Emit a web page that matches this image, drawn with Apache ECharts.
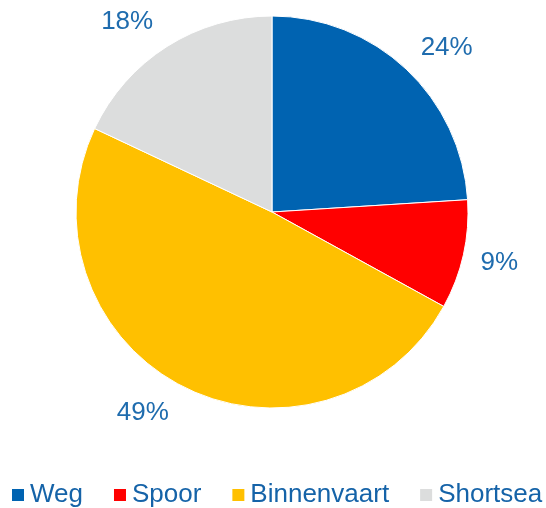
<!DOCTYPE html>
<html>
<head>
<meta charset="utf-8">
<script src="https://cdn.jsdelivr.net/npm/echarts@6/dist/echarts.min.js"></script>
<style>html,body{margin:0;padding:0;background:#fff}#c{width:546px;height:508px}</style>
</head>
<body>
<div id="c"></div>
<script>
const categories = ['Weg', 'Spoor', 'Binnenvaart', 'Shortsea'];
const values = [24, 9, 49, 18];
const colors = ['#0063B1', '#FF0000', '#FFC000', '#DCDDDD'];

const CX = 272, CY = 212, R = 196;
// label placement tweaks (degrees shift, distance from centre)
const labelAngleShift = [3.5, 0, 5.7, -4.9];
const labelDist = [240, 233, 239, 239];

const total = values.reduce((a, b) => a + b, 0);
function midAngle(i) {
  let s = 0;
  for (let k = 0; k < i; k++) s += values[k];
  return (s + values[i] / 2) / total * 360;
}

const chart = echarts.init(document.getElementById('c'), null, {renderer: 'canvas'});
chart.setOption({
  animation: false,
  color: colors,
  legend: {
    data: categories,
    left: 5,
    top: 477,
    width: 541,
    padding: 5,
    itemWidth: 14,
    itemHeight: 14,
    itemGap: 29,
    icon: 'rect',
    textStyle: {fontFamily: 'Liberation Sans, Arial, sans-serif', fontSize: 26, color: '#1563A8'}
  },
  series: [{
    type: 'pie',
    center: [CX, CY],
    radius: R,
    startAngle: 90,
    clockwise: true,
    avoidLabelOverlap: false,
    itemStyle: {borderColor: '#ffffff', borderWidth: 1},
    label: {
      show: true,
      position: 'inside',
      formatter: p => p.value + '%',
      fontFamily: 'Liberation Sans, Arial, sans-serif',
      fontSize: 26,
      color: '#1F6CAE'
    },
    labelLine: {show: false},
    labelLayout: function (p) {
      const i = p.dataIndex;
      const a = (midAngle(i) + labelAngleShift[i]) * Math.PI / 180;
      const d = labelDist[i];
      return {
        x: CX + d * Math.sin(a),
        y: CY - d * Math.cos(a),
        align: 'center',
        verticalAlign: 'middle'
      };
    },
    emphasis: {disabled: true},
    data: categories.map((n, i) => ({name: n, value: values[i]}))
  }]
});
</script>
</body>
</html>
